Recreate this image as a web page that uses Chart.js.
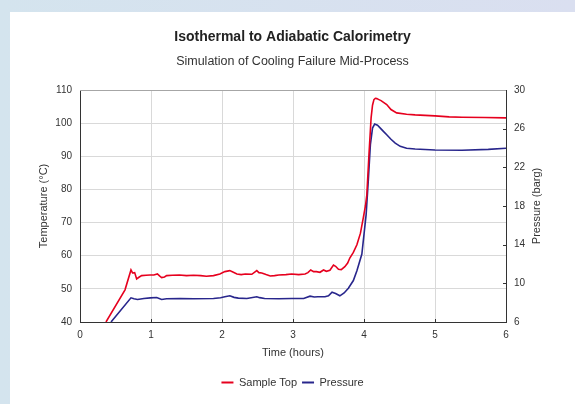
<!DOCTYPE html>
<html>
<head>
<meta charset="utf-8">
<script src="https://cdn.jsdelivr.net/npm/chart.js@4.4.1/dist/chart.umd.min.js"></script>
<style>
  html, body { margin: 0; padding: 0; }
  body {
    width: 575px; height: 404px; overflow: hidden; position: relative;
    background: linear-gradient(to right, #d4e4ee, #dadff0);
  }
  #panel { position: absolute; left: 10px; top: 12px; width: 565px; height: 392px; background: #fff; }
  #chart { display: block; }
</style>
</head>
<body>
<div id="panel"><canvas id="chart" width="565" height="392"></canvas></div>
<script>
// Sample Top temperature (°C) vs time (hours)
const timeTop = [0.366, 0.634, 0.718, 0.74, 0.77, 0.798, 0.83, 0.868, 0.93, 0.986, 1.04, 1.09, 1.12, 1.15, 1.19, 1.22,
  1.3, 1.4, 1.5, 1.6, 1.7, 1.78, 1.88, 1.97, 2.04, 2.11, 2.16, 2.21, 2.27, 2.33, 2.42, 2.49, 2.52, 2.56,
  2.62, 2.68, 2.74, 2.8, 2.9, 2.98, 3.08, 3.17, 3.21, 3.25, 3.29, 3.33, 3.38, 3.43, 3.47, 3.52, 3.57, 3.6,
  3.64, 3.68, 3.73, 3.77, 3.8, 3.85, 3.9, 3.95, 3.99, 4.02, 4.04, 4.07, 4.1, 4.12, 4.14, 4.16, 4.18, 4.21, 4.24, 4.28, 4.32,
  4.38, 4.46, 4.6, 4.72, 5.0, 5.2, 5.38, 5.7, 6.0];
const sampleTop = [40, 49.7, 55.7, 54.8, 54.9, 53.0, 53.5, 54.0, 54.1, 54.2, 54.2, 54.5, 53.9, 53.4, 53.6, 54.0,
  54.1, 54.2, 54.0, 54.1, 54.0, 53.8, 54.0, 54.5, 55.2, 55.5, 55.0, 54.5, 54.3, 54.5, 54.4, 55.5, 54.9, 54.8,
  54.3, 53.9, 54.0, 54.2, 54.3, 54.5, 54.3, 54.5, 54.9, 55.7, 55.2, 55.2, 55.0, 55.7, 55.3, 55.6, 57.2, 56.8,
  55.9, 55.8, 56.7, 57.8, 59.3, 61.0, 63.3, 66.8, 71.4, 75.0, 78.4, 90.5, 101.6, 105.4, 107.1, 107.5, 107.4, 107.1, 106.8, 106.2, 105.6,
  104.1, 103.1, 102.7, 102.5, 102.2, 101.9, 101.8, 101.7, 101.6];

// Pressure (barg) vs time (hours)
const timePressure = [0.437, 0.718, 0.76, 0.81, 0.9, 0.99, 1.08, 1.15, 1.22, 1.41, 1.6, 1.88, 1.98, 2.04, 2.11,
  2.17, 2.23, 2.35, 2.49, 2.53, 2.6, 2.8, 2.98, 3.15, 3.24, 3.3, 3.35, 3.45, 3.5, 3.55, 3.6, 3.66, 3.72, 3.78,
  3.85, 3.9, 3.97, 4.03, 4.06, 4.09, 4.12, 4.15, 4.19, 4.23, 4.27, 4.32, 4.38, 4.44, 4.51, 4.6, 4.72, 5.0, 5.38, 5.75, 6.0];
const pressure = [6.0, 8.5, 8.4, 8.33, 8.43, 8.5, 8.54, 8.33, 8.4, 8.43, 8.4, 8.43, 8.5, 8.61, 8.71,
  8.55, 8.47, 8.43, 8.61, 8.52, 8.43, 8.4, 8.43, 8.43, 8.67, 8.58, 8.61, 8.61, 8.7, 9.09, 8.95, 8.71, 9.0, 9.5,
  10.29, 11.31, 13.03, 17.11, 20.57, 24.34, 26.06, 26.47, 26.35, 26.06, 25.75, 25.37, 24.9, 24.51, 24.17, 23.98, 23.9, 23.79, 23.77, 23.86, 23.97];

const red = 'rgb(230, 0, 30)';
const navy = 'rgb(40, 38, 140)';
const axisColor = '#333';
const gridColor = '#d9d9d9';

Chart.defaults.font.family = '"Liberation Sans", Arial, sans-serif';

// inner tick marks, top border and the right-hand axis title
const frameExtras = {
  id: 'frameExtras',
  afterDraw(chart) {
    const { ctx, chartArea, scales } = chart;
    ctx.save();
    ctx.strokeStyle = '#a6a6a6';
    ctx.lineWidth = 1;
    ctx.beginPath();
    ctx.moveTo(chartArea.left, chartArea.top + 0.5);
    ctx.lineTo(chartArea.right, chartArea.top + 0.5);
    ctx.stroke();

    ctx.strokeStyle = axisColor;
    ctx.beginPath();
    scales.x.ticks.forEach(t => {
      if (t.value <= scales.x.min || t.value >= scales.x.max) return;
      const px = Math.round(scales.x.getPixelForValue(t.value)) + 0.5;
      ctx.moveTo(px, chartArea.bottom);
      ctx.lineTo(px, chartArea.bottom - 3);
    });
    scales.y2.ticks.forEach(t => {
      if (t.value <= scales.y2.min || t.value >= scales.y2.max) return;
      const py = Math.round(scales.y2.getPixelForValue(t.value)) + 0.5;
      ctx.moveTo(chartArea.right, py);
      ctx.lineTo(chartArea.right - 3, py);
    });
    ctx.stroke();

    ctx.fillStyle = '#333';
    ctx.font = '11px "Liberation Sans", Arial, sans-serif';
    ctx.textAlign = 'center';
    ctx.textBaseline = 'middle';
    ctx.translate(chartArea.right + 30.5, (chartArea.top + chartArea.bottom) / 2);
    ctx.rotate(-Math.PI / 2);
    ctx.fillText('Pressure (barg)', 0, 0);
    ctx.restore();
  }
};

new Chart(document.getElementById('chart'), {
  type: 'line',
  data: {
    datasets: [
      {
        label: 'Sample Top',
        data: timeTop.map((t, i) => ({ x: t, y: sampleTop[i] })),
        yAxisID: 'y',
        borderColor: red,
        backgroundColor: red,
        borderWidth: 1.6,
        pointRadius: 0,
        tension: 0,
      },
      {
        label: 'Pressure',
        data: timePressure.map((t, i) => ({ x: t, y: pressure[i] })),
        yAxisID: 'y2',
        borderColor: navy,
        backgroundColor: navy,
        borderWidth: 1.6,
        pointRadius: 0,
        tension: 0,
      },
    ],
  },
  options: {
    responsive: false,
    animation: false,
    layout: { padding: { left: 0, right: 0, top: 0, bottom: 6 } },
    scales: {
      x: {
        type: 'linear',
        min: 0,
        max: 6,
        ticks: { stepSize: 1, padding: 7, color: '#333', font: { size: 10 } },
        grid: { color: gridColor, drawTicks: false },
        border: { color: axisColor },
        title: { display: true, text: 'Time (hours)', color: '#333', font: { size: 11 }, padding: { top: 0, bottom: 12.4 } },
        afterFit: (s) => { s.height = 50; },
      },
      y: {
        position: 'left',
        min: 40,
        max: 110,
        ticks: { stepSize: 10, padding: 8, color: '#333', font: { size: 10 } },
        grid: { color: gridColor, drawTicks: false },
        border: { color: axisColor },
        title: { display: true, text: 'Temperature (°C)', color: '#333', font: { size: 11 }, padding: { top: 27.4, bottom: 0 } },
        afterFit: (s) => { s.width = 70; },
      },
      y2: {
        position: 'right',
        min: 6,
        max: 30,
        ticks: { stepSize: 4, padding: 8, color: '#333', font: { size: 10 } },
        grid: { drawOnChartArea: false, drawTicks: false },
        border: { color: axisColor },
        afterFit: (s) => { s.width = 69; },
      },
    },
    plugins: {
      title: {
        display: true,
        text: 'Isothermal to Adiabatic Calorimetry',
        color: '#222',
        font: { size: 14, weight: 'bold' },
        padding: { top: 16.6, bottom: 0 },
      },
      subtitle: {
        display: true,
        text: 'Simulation of Cooling Failure Mid-Process',
        color: '#333',
        font: { size: 12.5 },
        padding: { top: 9.1, bottom: 20.5 },
      },
      legend: {
        position: 'bottom',
        labels: {
          boxWidth: 12,
          boxHeight: 2,
          padding: 5,
          color: '#333',
          font: { size: 11 },
          generateLabels: (chart) =>
            Chart.defaults.plugins.legend.labels.generateLabels(chart).map(l => ({ ...l, lineWidth: 0 })),
        },
      },
      tooltip: { enabled: false },
    },
  },
  plugins: [frameExtras],
});
</script>
</body>
</html>
